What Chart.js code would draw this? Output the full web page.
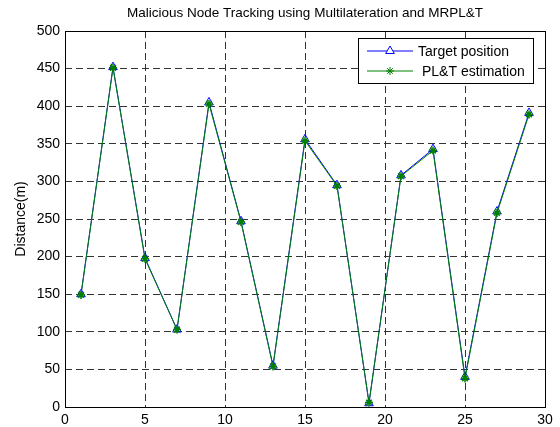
<!DOCTYPE html>
<html>
<head>
<meta charset="utf-8">
<script src="https://cdn.jsdelivr.net/npm/chart.js@4/dist/chart.umd.min.js"></script>
<style>
  body { margin: 0; background: #fff; }
  #wrap { width: 560px; height: 427px; }
</style>
</head>
<body>
<div id="wrap"><canvas id="trackChart"></canvas></div>
<script>
// data
const nodeX = [1, 3, 5, 7, 9, 11, 13, 15, 17, 19, 21, 23, 25, 27, 29];
const targetY = [150, 452, 198, 103, 405, 247, 55, 356, 295, 5, 308, 343, 40, 260, 391];
const estimateY = [149, 451, 197, 103, 403, 246, 54, 354, 294, 6, 307, 341, 38, 258, 389];
const xTicks = [0, 5, 10, 15, 20, 25, 30];
const yTicks = [0, 50, 100, 150, 200, 250, 300, 350, 400, 450, 500];

const FONT = '"Liberation Sans", Arial, sans-serif';
const toPoints = (xs, ys) => xs.map((x, i) => ({ x: x, y: ys[i] }));

// box around plot, y title, title and legend inside top right, matlab style
const matlabBox = {
    id: 'matlabBox',
    afterDraw(chart) {
        const ctx = chart.ctx;
        const a = chart.chartArea;
        ctx.save();
        ctx.strokeStyle = '#000';
        ctx.lineWidth = 1;
        ctx.setLineDash([]);
        ctx.strokeRect(a.left + 0.5, a.top + 0.5, a.right - a.left, a.bottom - a.top);

        ctx.fillStyle = '#000';
        ctx.textAlign = 'center';
        ctx.textBaseline = 'middle';
        ctx.font = '13.5px ' + FONT;
        ctx.fillText('Malicious Node Tracking using Multilateration and MRPL&T', (a.left + a.right) / 2, 13);

        ctx.save();
        ctx.translate(21, (a.top + a.bottom) / 2);
        ctx.rotate(-Math.PI / 2);
        ctx.font = '14px ' + FONT;
        ctx.fillText('Distance(m)', 0, 0);
        ctx.restore();

        // legend
        const lx = 358, ly = 38, lw = 175, lh = 45;
        ctx.fillStyle = '#fff';
        ctx.fillRect(lx, ly, lw, lh);
        ctx.strokeRect(lx + 0.5, ly + 0.5, lw, lh);
        ctx.font = '14px ' + FONT;
        ctx.textAlign = 'left';
        chart.data.datasets.forEach((ds, i) => {
            const yy = ly + 13 + i * 20;
            ctx.strokeStyle = ds.borderColor;
            ctx.beginPath();
            ctx.moveTo(lx + 9, yy);
            ctx.lineTo(lx + 55, yy);
            ctx.stroke();
            Chart.helpers.drawPoint(ctx, {
                pointStyle: ds.pointStyle,
                radius: ds.pointRadius,
                borderWidth: 1
            }, lx + 32, yy);
            ctx.fillStyle = '#000';
            ctx.fillText(ds.label, lx + 60 + i * 4, yy + 1);
        });
        ctx.restore();
    }
};

new Chart(document.getElementById('trackChart'), {
    type: 'scatter',
    data: {
        datasets: [{
            label: 'Target position',
            data: toPoints(nodeX, targetY),
            order: 1,
            showLine: true,
            borderColor: '#0000ff',
            borderWidth: 1,
            pointStyle: 'triangle',
            pointRadius: 5,
            pointBorderColor: '#0000ff',
            pointBackgroundColor: 'rgba(0,0,0,0)',
            pointBorderWidth: 1
        }, {
            label: 'PL&T estimation',
            data: toPoints(nodeX, estimateY),
            order: 0,
            showLine: true,
            borderColor: '#008000',
            borderWidth: 1,
            pointStyle: 'star',
            pointRadius: 4,
            pointBorderColor: '#008000',
            pointBorderWidth: 1.5
        }]
    },
    options: {
        responsive: true,
        maintainAspectRatio: false,
        animation: false,
        layout: { padding: { left: 0, right: 15, top: 31, bottom: 0 } },
        plugins: {
            legend: { display: false },
            tooltip: { enabled: false },
            title: { display: false }
        },
        scales: {
            x: {
                type: 'linear',
                min: 0,
                max: 30,
                afterBuildTicks: (s) => { s.ticks = xTicks.map(v => ({ value: v })); },
                afterFit: (s) => { s.height = 20; },
                ticks: { color: '#000', padding: 5, font: { size: 14, family: FONT }, maxRotation: 0 },
                grid: { color: '#333', drawTicks: false },
                border: { display: false, dash: [7, 4] }
            },
            y: {
                min: 0,
                max: 500,
                afterBuildTicks: (s) => { s.ticks = yTicks.map(v => ({ value: v })); },
                afterFit: (s) => { s.width = 65; },
                ticks: { color: '#000', padding: 5, font: { size: 14, family: FONT } },
                grid: { color: '#333', drawTicks: false },
                border: { display: false, dash: [7, 4] }
            }
        }
    },
    plugins: [matlabBox]
});
</script>
</body>
</html>
